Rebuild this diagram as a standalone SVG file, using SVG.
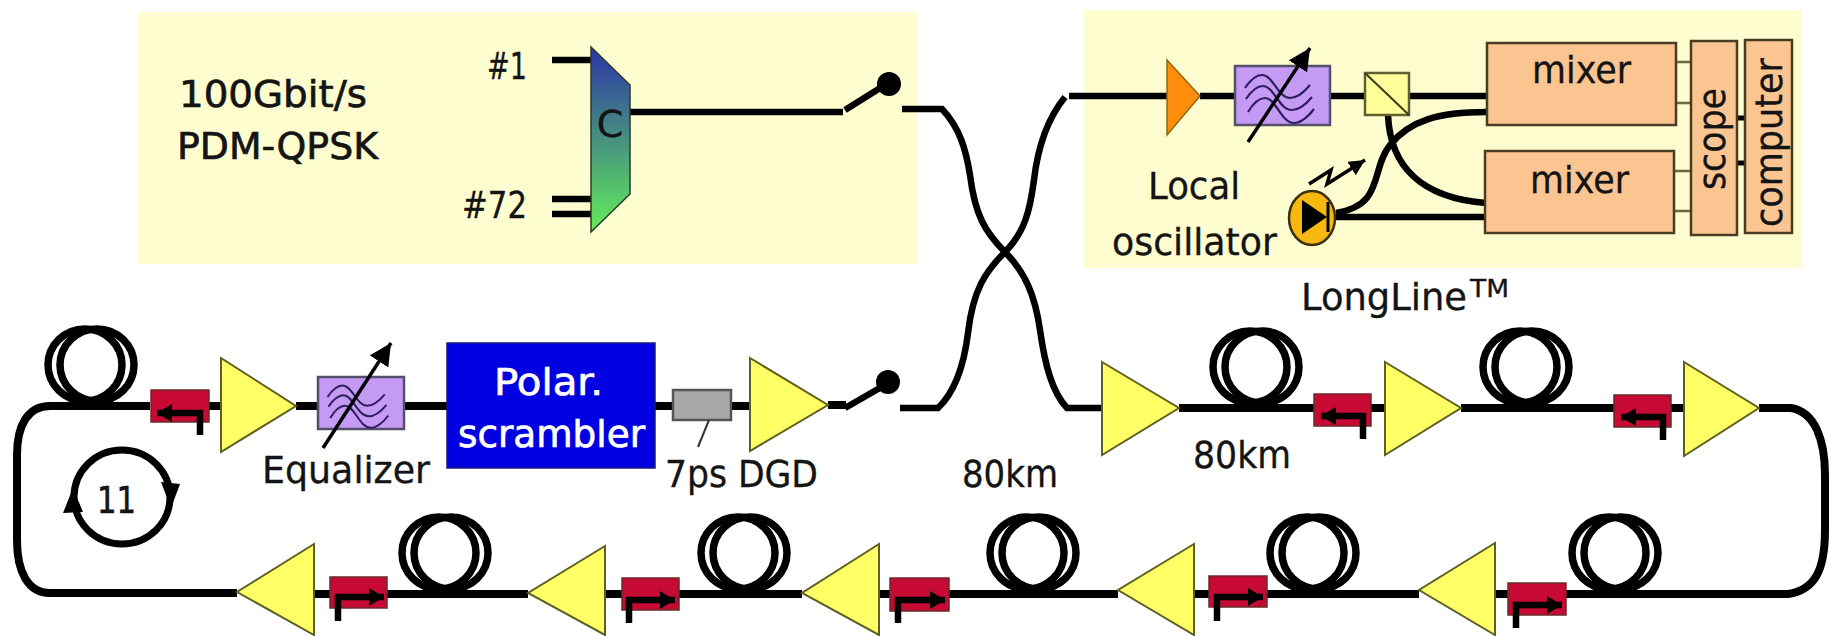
<svg xmlns="http://www.w3.org/2000/svg" xmlns:xlink="http://www.w3.org/1999/xlink" width="1830" height="636" viewBox="0 0 1830 636">
<style>
text{font-family:"DejaVu Sans","Liberation Sans",sans-serif;font-size:38px;fill:#141414;stroke:#141414;stroke-width:.35}
.panel{fill:#fefdd0}
.fibre{fill:none;stroke:#000;stroke-width:6.5}
.loop{fill:none;stroke:#000;stroke-width:8}
.coil{fill:none;stroke:#000;stroke-width:7.5}
.amp{fill:#ffff66;stroke:#5f5f20;stroke-width:2}
.iso{fill:#c60a34;stroke:#6b2a2a;stroke-width:1.5}
.isoarrow{fill:none;stroke:#000;stroke-width:6.5}
.box{fill:#fbc592;stroke:#4a3c22;stroke-width:2.5}
.filter{fill:#c49af5;stroke:#55506a;stroke-width:2.5}
.wave{fill:none;stroke:#2e1f5c;stroke-width:2.2}
.thin{fill:none;stroke:#6a6a40;stroke-width:2.5}
.tune{fill:none;stroke:#000;stroke-width:3.5}
.heavy{stroke-width:.7}
.inv{fill:#fff;stroke:#fff;stroke-width:.7}
</style>
<defs>
<linearGradient id="muxg" x1="0" y1="0" x2="0" y2="1"><stop offset="0" stop-color="#2c34a8"/><stop offset="1" stop-color="#62ee58"/></linearGradient>
<marker id="ah" markerUnits="userSpaceOnUse" markerWidth="16" markerHeight="20" refX="15" refY="9" orient="auto"><path d="M0,0 L15,9 L0,18 Z" fill="#000"/></marker>
<marker id="ah2" markerUnits="userSpaceOnUse" markerWidth="24" markerHeight="24" refX="22" refY="11" orient="auto"><path d="M0,0 L22,11 L0,22 Z" fill="#000"/></marker>
<marker id="ah3" markerUnits="userSpaceOnUse" markerWidth="18" markerHeight="18" refX="16" refY="8" orient="auto"><path d="M0,0 L16,8 L0,16 Z" fill="#000"/></marker>
<g id="coilshape"><ellipse class="coil" cx="-6" cy="-39" rx="37" ry="36"/><ellipse class="coil" cx="6" cy="-39" rx="37" ry="36"/></g>
<g id="waves"><path class="wave" d="M-38,-8 C-32,-17 -26,-21 -21,-21 C-10,-21 -5,2 7,2 C14,2 22,-5 27,-11"/><path class="wave" d="M-37,3 C-31,-6 -25,-10 -20,-10 C-9,-10 -4,14 9,14 C16,14 24,7 29,1"/><path class="wave" d="M-35,16 C-29,6 -23,2 -18,2 C-7,2 -2,27 11,27 C18,27 26,20 31,13"/></g>
</defs>

<rect id="panel-transmitter" class="panel" x="138" y="12" width="780" height="252"/>
<rect id="panel-receiver" class="panel" x="1084" y="10" width="718" height="258"/>

<g id="connectors">
<path class="fibre" d="M552,60 H591 M552,199 H591 M552,214 H591 M630,112 H843"/>
<path class="fibre" d="M902,109 H942 C960,128 966,150 970,175 C975,215 985,232 1005,252 C1025,272 1035,295 1040,330 C1045,365 1052,392 1067,408 H1102"/>
<path class="fibre" d="M900,408 H938 C955,392 964,365 968,333 C973,290 985,272 1005,252 C1025,232 1030,210 1034,180 C1038,145 1048,118 1065,97"/>
<path class="fibre" d="M1069,96 H1167 M1200,96 H1236 M1331,96 H1365 M1409,96 H1486"/>
<path class="fibre" d="M1388,115 C1390,165 1420,198 1486,203"/>
<path class="fibre" d="M1336,213 C1385,205 1370,170 1390,145 C1410,120 1440,112 1486,112"/>
<path class="fibre" d="M1336,217 H1485"/>
<path class="thin" d="M1676,62 H1691 M1676,103 H1691 M1674,171 H1691 M1674,211 H1691"/>
<path d="M1737,118 H1745 M1737,163 H1745" stroke="#000" stroke-width="5" fill="none"/>
<path class="loop" d="M296,406 H318 M404,406 H447 M655,406 H673 M731,406 H750 M828,405 H846"/>
<path class="loop" d="M208,406 H221 M150,406 H50 C28,406 17,425 17,455 V540 C17,572 28,593 50,593 H237"/>
<path class="loop" d="M1179,408 H1314 M1371,408 H1385 M1461,408 H1614 M1671,408 H1684 M1759,408 H1791 C1815,412 1825,440 1825,475 V530 C1825,570 1815,590 1788,594 H1566"/>
<path class="loop" d="M1508,594 H1495 M1419,594 H1267 M1209,594 H1194 M1118,594 H949 M890,594 H879 M802,594 H679 M622,594 H605 M528,594 H387 M330,594 H314"/>
<path class="fibre" d="M845,110 L885,85 M845,408 L885,385"/>
</g>

<g id="mux"><path d="M591,47 L630,85 V194 L591,232 Z" fill="url(#muxg)" stroke="#2a3a2a" stroke-width="1.5"/><text x="610" y="137" text-anchor="middle">C</text></g>
<g id="switch-top"><circle cx="889" cy="84" r="12" fill="#000"/></g>
<g id="switch-bottom"><circle cx="888" cy="382" r="12" fill="#000"/></g>
<g id="label-rate"><text class="heavy" x="179" y="107" textLength="188" lengthAdjust="spacingAndGlyphs">100Gbit/s</text><text class="heavy" x="177" y="159" textLength="201" lengthAdjust="spacingAndGlyphs">PDM-QPSK</text></g>
<g id="label-channels"><text x="487" y="79" textLength="40" lengthAdjust="spacingAndGlyphs">#1</text><text x="462" y="218" textLength="65" lengthAdjust="spacingAndGlyphs">#72</text></g>

<g id="rx-amp"><path d="M1167,60 L1200,96 L1167,135 Z" fill="#ff8c0a" stroke="#8a6a10" stroke-width="1.5"/></g>
<g id="rx-filter"><rect class="filter" x="1235" y="66" width="95" height="59"/><use href="#waves" xlink:href="#waves" transform="translate(1283,96)"/><path class="tune" d="M1248,142 L1310,48" marker-end="url(#ah2)"/></g>
<g id="splitter"><rect x="1365" y="73" width="44" height="42" fill="#ffff99" stroke="#5f5f30" stroke-width="2.5"/><path d="M1365,73 L1409,115" stroke="#3a3a20" stroke-width="2" fill="none"/></g>
<g id="mixer-1"><rect class="box" x="1487" y="43" width="189" height="82"/><text x="1532" y="83" textLength="99" lengthAdjust="spacingAndGlyphs">mixer</text></g>
<g id="mixer-2"><rect class="box" x="1485" y="151" width="189" height="82"/><text x="1530" y="193" textLength="99" lengthAdjust="spacingAndGlyphs">mixer</text></g>
<g id="scope"><rect class="box" x="1691" y="41" width="46" height="194"/><text transform="translate(1725,190) rotate(-90)" textLength="102" lengthAdjust="spacingAndGlyphs">scope</text></g>
<g id="computer"><rect class="box" x="1745" y="40" width="47" height="193"/><text transform="translate(1782,227) rotate(-90)" textLength="169" lengthAdjust="spacingAndGlyphs">computer</text></g>
<g id="local-oscillator"><ellipse cx="1312" cy="218" rx="23" ry="27" fill="#f7b90f" stroke="#3a3010" stroke-width="2.5"/><path d="M1302,200 L1327,217 L1302,234 Z" fill="#000"/><path d="M1328,202 V232" stroke="#000" stroke-width="3"/><path class="tune" d="M1309,184 L1331,170 L1327,184 L1365,160" marker-end="url(#ah3)" stroke-width="2.5"/></g>
<g id="label-lo"><text x="1148" y="199" textLength="92" lengthAdjust="spacingAndGlyphs">Local</text><text x="1112" y="255" textLength="165" lengthAdjust="spacingAndGlyphs">oscillator</text></g>
<g id="label-longline"><text x="1301" y="310" textLength="166" lengthAdjust="spacingAndGlyphs">LongLine</text><text x="1470" y="297" textLength="39" lengthAdjust="spacingAndGlyphs" style="font-size:25px">TM</text></g>

<g id="loop-count"><ellipse cx="122" cy="497" rx="48" ry="47" fill="none" stroke="#000" stroke-width="7"/><path d="M161,482 L180,484 L171,508 Z M63,513 L83,512 L73,488 Z" fill="#000"/><text class="heavy" x="97" y="513" textLength="39" lengthAdjust="spacingAndGlyphs">11</text></g>

<g id="equalizer"><rect class="filter" x="318" y="377" width="86" height="52"/><use href="#waves" xlink:href="#waves" transform="translate(361,404) scale(.88)"/><path class="tune" d="M323,448 L391,343" marker-end="url(#ah2)"/><text x="262" y="483" textLength="168" lengthAdjust="spacingAndGlyphs">Equalizer</text></g>
<g id="scrambler"><rect x="447" y="343" width="208" height="125" fill="#0000e0" stroke="#1a1a80" stroke-width="1.5"/><text class="inv" x="494" y="395" textLength="109" lengthAdjust="spacingAndGlyphs">Polar.</text><text class="inv" x="458" y="447" textLength="187" lengthAdjust="spacingAndGlyphs">scrambler</text></g>
<g id="dgd"><rect x="673" y="390" width="58" height="30" fill="#a8a8a8" stroke="#555" stroke-width="2.5"/><path d="M709,420 L698,447" stroke="#333" stroke-width="2" fill="none"/><text x="665" y="487" textLength="153" lengthAdjust="spacingAndGlyphs">7ps DGD</text></g>
<g id="labels-80km"><text x="962" y="487" textLength="96" lengthAdjust="spacingAndGlyphs">80km</text><text x="1193" y="468" textLength="98" lengthAdjust="spacingAndGlyphs">80km</text></g>

<g id="coil-1"><use href="#coilshape" xlink:href="#coilshape" x="91" y="404"/></g>
<g id="coil-2"><use href="#coilshape" xlink:href="#coilshape" x="1256" y="406"/></g>
<g id="coil-3"><use href="#coilshape" xlink:href="#coilshape" x="1526" y="406"/></g>
<g id="coil-4"><use href="#coilshape" xlink:href="#coilshape" x="1615" y="592"/></g>
<g id="coil-5"><use href="#coilshape" xlink:href="#coilshape" x="1313" y="592"/></g>
<g id="coil-6"><use href="#coilshape" xlink:href="#coilshape" x="1033" y="592"/></g>
<g id="coil-7"><use href="#coilshape" xlink:href="#coilshape" x="744" y="592"/></g>
<g id="coil-8"><use href="#coilshape" xlink:href="#coilshape" x="445" y="592"/></g>

<g id="amp-1"><path class="amp" d="M221,358 L296,406 L221,452 Z"/></g>
<g id="amp-2"><path class="amp" d="M750,358 L828,405 L750,451 Z"/></g>
<g id="amp-3"><path class="amp" d="M1102,362 L1179,408 L1102,455 Z"/></g>
<g id="amp-4"><path class="amp" d="M1385,362 L1461,408 L1385,455 Z"/></g>
<g id="amp-5"><path class="amp" d="M1684,362 L1759,408 L1684,456 Z"/></g>
<g id="amp-6"><path class="amp" d="M1495,543 L1419,590 L1495,635 Z"/></g>
<g id="amp-7"><path class="amp" d="M1194,544 L1118,590 L1194,635 Z"/></g>
<g id="amp-8"><path class="amp" d="M879,544 L802,593 L879,635 Z"/></g>
<g id="amp-9"><path class="amp" d="M605,546 L528,593 L605,635 Z"/></g>
<g id="amp-10"><path class="amp" d="M314,544 L237,592 L314,635 Z"/></g>

<g id="iso-1"><rect class="iso" x="151" y="390" width="58" height="32"/><path class="isoarrow" d="M200,435 V413 H157" marker-end="url(#ah)"/></g>
<g id="iso-2"><rect class="iso" x="1314" y="394" width="57" height="32"/><path class="isoarrow" d="M1363,439 V416 H1321" marker-end="url(#ah)"/></g>
<g id="iso-3"><rect class="iso" x="1614" y="395" width="57" height="32"/><path class="isoarrow" d="M1663,440 V417 H1621" marker-end="url(#ah)"/></g>
<g id="iso-4"><rect class="iso" x="1508" y="583" width="58" height="32"/><path class="isoarrow" d="M1516,628 V605 H1562" marker-end="url(#ah)"/></g>
<g id="iso-5"><rect class="iso" x="1209" y="576" width="58" height="31"/><path class="isoarrow" d="M1217,621 V597 H1263" marker-end="url(#ah)"/></g>
<g id="iso-6"><rect class="iso" x="890" y="578" width="59" height="33"/><path class="isoarrow" d="M898,623 V600 H945" marker-end="url(#ah)"/></g>
<g id="iso-7"><rect class="iso" x="622" y="578" width="57" height="32"/><path class="isoarrow" d="M629,623 V600 H675" marker-end="url(#ah)"/></g>
<g id="iso-8"><rect class="iso" x="330" y="577" width="57" height="31"/><path class="isoarrow" d="M338,621 V597 H384" marker-end="url(#ah)"/></g>
</svg>
